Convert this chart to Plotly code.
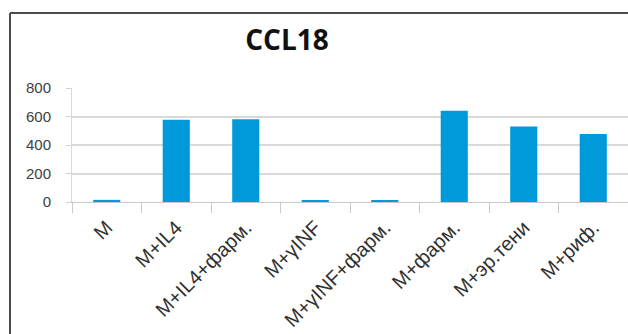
import plotly.graph_objects as go

# CCL18 level by treatment group
groups = ["M", "M+IL4", "M+IL4+фарм.", "M+γINF", "M+γINF+фарм.",
          "M+фарм.", "M+эр.тени", "M+риф."]
ccl18 = [15, 578, 580, 10, 10, 640, 530, 478]
y_ticks = [0, 200, 400, 600, 800]

W, H = 628, 334
ml, mr, mt, mb = 72, 0, 88, 132
pw, ph = W - ml - mr, H - mt - mb

fig = go.Figure(go.Bar(
    x=groups, y=ccl18,
    marker=dict(color="#009ADB", line=dict(width=0)),
    width=0.39,
))

# outer frame (top and left edges visible)
bx = (10 - ml) / pw
by = (H - mb - 13) / ph
frame = dict(color="#4D4D4D", width=2)
fig.add_shape(type="line", xref="paper", yref="paper",
              x0=bx, x1=bx, y0=-2, y1=by, line=frame)
fig.add_shape(type="line", xref="paper", yref="paper",
              x0=bx, x1=1.2, y0=by, y1=by, line=frame)

fig.update_layout(
    width=W, height=H,
    margin=dict(l=ml, r=mr, t=mt, b=mb, autoexpand=False),
    paper_bgcolor="white", plot_bgcolor="white",
    showlegend=False,
    title=dict(text="<b>CCL18</b>", x=(287 - ml) / pw, xref="paper",
               xanchor="center", y=1 - 40 / H, yanchor="middle",
               font=dict(family="Open Sans", size=28, color="#111111")),
    font=dict(family="Liberation Sans", color="#404040"),
    xaxis=dict(
        type="category", tickangle=-45, tickson="boundaries",
        ticks="outside", ticklen=10, tickcolor="#C8C8C8",
        showline=True, linecolor="#C8C8C8", linewidth=1,
        showgrid=False, tickfont=dict(size=20, color="#303030"),
        ticklabelstandoff=5, automargin=False,
        range=[-0.5, len(groups) - 0.5],
    ),
    yaxis=dict(
        range=[0, 800], tickvals=y_ticks,
        ticks="outside", ticklen=5, tickcolor="#D0D0D0",
        showgrid=True, gridcolor="#D9D9D9", gridwidth=1.5,
        showline=True, linecolor="#D9D9D9", linewidth=1,
        zeroline=False, ticklabelstandoff=12, automargin=False,
        tickfont=dict(size=15, color="#404040"),
    ),
    bargap=0.61,
)

fig.write_html("out.html")
